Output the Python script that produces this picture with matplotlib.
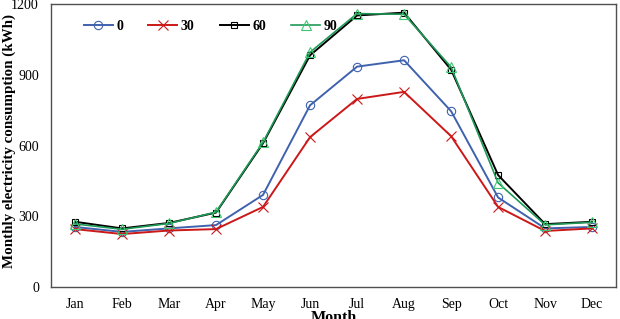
import matplotlib
matplotlib.use("Agg")
import matplotlib.pyplot as plt

plt.rcParams['font.family'] = ['Liberation Serif', 'DejaVu Serif']

# Monthly electricity consumption (kWh) per orientation
months = ['Jan', 'Feb', 'Mar', 'Apr', 'May', 'Jun', 'Jul', 'Aug', 'Sep', 'Oct', 'Nov', 'Dec']
cons_0 = [255, 234, 249, 263, 391, 771, 935, 962, 746, 380, 249, 255]
cons_30 = [246, 225, 240, 246, 340, 636, 798, 828, 640, 340, 238, 249]
cons_60 = [277, 249, 272, 316, 610, 983, 1152, 1164, 922, 475, 267, 277]
cons_90 = [268, 245, 270, 318, 614, 996, 1160, 1157, 933, 442, 264, 275]

fig, ax = plt.subplots(figsize=(6.2, 3.19), dpi=100)
fig.subplots_adjust(left=0.083, right=0.993, top=0.987, bottom=0.1)

x = range(len(months))
ax.plot(x, cons_0, color='#3F62AE', lw=1.4, marker='o', ms=6, mfc='none', mec='#3F62AE', mew=0.8, label='0')
ax.plot(x, cons_30, color='#CC1818', lw=1.4, marker='x', ms=6.5, mec='#CC1818', mew=0.8, label='30')
ax.plot(x, cons_60, color='black', lw=1.4, marker='s', ms=4.8, mfc='none', mec='black', mew=0.8, label='60')
ax.plot(x, cons_90, color='#1E9A57', lw=1.2, marker='^', ms=6.5, mfc='none', mec='#3CC870', mew=0.8, label='90')

ax.set_xlim(-0.5, len(months) - 0.5)
ax.set_ylim(0, 1200)
ax.set_yticks([0, 300, 600, 900, 1200])
ax.set_xticks(list(x))
ax.set_xticklabels(months)
ax.tick_params(axis='both', length=0, labelsize=10)
ax.tick_params(axis='x', pad=8)
ax.tick_params(axis='y', pad=9)
for s in ax.spines.values():
    s.set_color('#505050')
    s.set_linewidth(1.0)

ax.set_xlabel('Month', fontsize=11.5, fontweight='bold')
ax.xaxis.set_label_coords(0.5, -0.08)
ax.set_ylabel('Monthly electricity consumption (kWh)', fontsize=10.8, fontweight='bold')
ax.yaxis.set_label_coords(-0.062, 0.515)

leg = ax.legend(loc='upper left', ncol=4, frameon=False, bbox_to_anchor=(0.035, 0.988),
                prop={'weight': 'bold', 'size': 10}, handlelength=2.1, columnspacing=1.8,
                handletextpad=0.25)

fig.savefig('out.png', dpi=100)
